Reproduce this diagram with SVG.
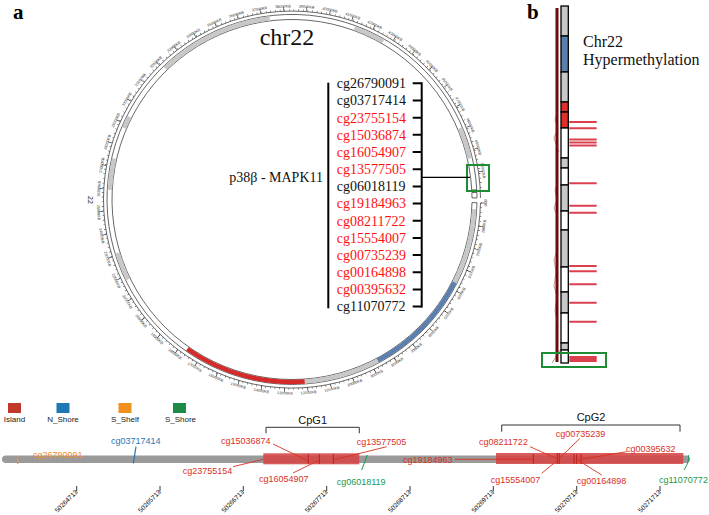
<svg xmlns="http://www.w3.org/2000/svg" width="709" height="515" viewBox="0 0 709 515">
<style>
.serif{font-family:"Liberation Serif","Times New Roman",serif}
.sans{font-family:"Liberation Sans",Arial,sans-serif}
.tl{font-family:"Liberation Sans",Arial,sans-serif;font-size:3.8px;fill:#333;text-anchor:middle}
.li{font-family:"Liberation Serif",serif;font-size:14px}
.blk{fill:#111}
.red{fill:#ff1010}
.band{fill:none;stroke-width:4.4}
.g{stroke:#c8c8c8}
.pr{font-family:"Liberation Sans",Arial,sans-serif;font-size:9px}
.cr{fill:#d7301f}
.cl{stroke:#d7301f;stroke-width:0.9;fill:none}
.tk{stroke:#c0201a;stroke-width:1}
.ax{font-family:"Liberation Sans",Arial,sans-serif;font-size:6.5px;fill:#000;text-anchor:end}
.hm{stroke:#d9414f;stroke-width:2}
.seg{stroke:#000;stroke-width:1.3}
.lg{font-family:"Liberation Sans",Arial,sans-serif;font-size:8px;fill:#222;text-anchor:middle}
</style>
<rect width="709" height="515" fill="#fff"/>

<text x="13" y="19" class="serif" font-size="21" font-weight="bold">a</text>
<text x="527" y="19" class="serif" font-size="21" font-weight="bold">b</text>

<!-- circle -->
<g id="circos">
<path d="M476.97,202.73 A185,185 0 1 1 476.75,189.82 L471.75,190.08 A180,180 0 1 0 471.97,202.64 Z" fill="#fff" stroke="#000" stroke-width="0.6"/>
<path d="M476.86,192.40 A185,185 0 0 1 476.99,197.89 L471.99,197.93 A180,180 0 0 0 471.87,192.59 Z" fill="#fff" stroke="#000" stroke-width="0.6"/>
<path class="band g" d="M474.25,209.05 A182.5,182.5 0 0 1 454.61,282.35"/>
<path class="band" stroke="#5b7fae" d="M454.61,282.35 A182.5,182.5 0 0 1 377.68,360.64"/>
<path class="band g" d="M377.68,360.64 A182.5,182.5 0 0 1 304.73,381.55"/>
<path class="band" stroke="#d42a2a" d="M304.73,381.55 A182.5,182.5 0 0 1 187.32,349.00"/>
<path class="band g" d="M127.97,279.50 A182.5,182.5 0 0 1 117.48,252.86"/>
<path class="band g" d="M109.75,189.95 A182.5,182.5 0 0 1 114.18,158.45"/>
<path class="band g" d="M124.01,128.19 A182.5,182.5 0 0 1 129.39,116.65"/>
<path class="band g" d="M165.22,68.22 A182.5,182.5 0 0 1 269.76,18.36"/>
<path class="band g" d="M354.42,28.01 A182.5,182.5 0 0 1 383.25,41.45"/>
<path class="band g" d="M459.99,128.19 A182.5,182.5 0 0 1 469.82,158.45"/>
<path d="M480.47,202.79 A188.5,188.5 0 1 1 480.49,197.86" fill="none" stroke="#000" stroke-width="0.6"/>
<path d="M481.47,202.81 A189.5,189.5 0 1 1 481.24,189.58" fill="none" stroke="#000" stroke-width="1.6" stroke-dasharray="0.4 4.24"/>
<path d="M482.97,202.83 A191,191 0 1 1 482.74,189.50" fill="none" stroke="#000" stroke-width="4" stroke-dasharray="0.5 22.85"/>
<text x="88" y="200" class="sans" font-size="7" fill="#222" text-anchor="middle" transform="rotate(90 88 200)">22</text>
<g id="ticklabels">
<text class="tl" x="292" y="394.5" transform="rotate(-89 292 199.5)">0KB</text>
<text class="tl" x="292" y="394.5" transform="rotate(-81.99 292 199.5)">1000KB</text>
<text class="tl" x="292" y="394.5" transform="rotate(-74.98 292 199.5)">2000KB</text>
<text class="tl" x="292" y="394.5" transform="rotate(-67.98 292 199.5)">3000KB</text>
<text class="tl" x="292" y="394.5" transform="rotate(-60.97 292 199.5)">4000KB</text>
<text class="tl" x="292" y="394.5" transform="rotate(-53.96 292 199.5)">5000KB</text>
<text class="tl" x="292" y="394.5" transform="rotate(-46.95 292 199.5)">6000KB</text>
<text class="tl" x="292" y="394.5" transform="rotate(-39.94 292 199.5)">7000KB</text>
<text class="tl" x="292" y="394.5" transform="rotate(-32.94 292 199.5)">8000KB</text>
<text class="tl" x="292" y="394.5" transform="rotate(-25.93 292 199.5)">9000KB</text>
<text class="tl" x="292" y="394.5" transform="rotate(-18.92 292 199.5)">10000KB</text>
<text class="tl" x="292" y="394.5" transform="rotate(-11.91 292 199.5)">11000KB</text>
<text class="tl" x="292" y="394.5" transform="rotate(-4.9 292 199.5)">12000KB</text>
<text class="tl" x="292" y="394.5" transform="rotate(2.1 292 199.5)">13000KB</text>
<text class="tl" x="292" y="394.5" transform="rotate(9.11 292 199.5)">14000KB</text>
<text class="tl" x="292" y="394.5" transform="rotate(16.12 292 199.5)">15000KB</text>
<text class="tl" x="292" y="394.5" transform="rotate(23.13 292 199.5)">16000KB</text>
<text class="tl" x="292" y="394.5" transform="rotate(30.14 292 199.5)">17000KB</text>
<text class="tl" x="292" y="394.5" transform="rotate(37.14 292 199.5)">18000KB</text>
<text class="tl" x="292" y="394.5" transform="rotate(44.15 292 199.5)">19000KB</text>
<text class="tl" x="292" y="394.5" transform="rotate(51.16 292 199.5)">20000KB</text>
<text class="tl" x="292" y="394.5" transform="rotate(58.17 292 199.5)">21000KB</text>
<text class="tl" x="292" y="394.5" transform="rotate(65.18 292 199.5)">22000KB</text>
<text class="tl" x="292" y="394.5" transform="rotate(72.18 292 199.5)">23000KB</text>
<text class="tl" x="292" y="394.5" transform="rotate(79.19 292 199.5)">24000KB</text>
<text class="tl" x="292" y="394.5" transform="rotate(86.2 292 199.5)">25000KB</text>
<text class="tl" x="292" y="7.5" transform="rotate(-86.79 292 199.5)">26000KB</text>
<text class="tl" x="292" y="7.5" transform="rotate(-79.78 292 199.5)">27000KB</text>
<text class="tl" x="292" y="7.5" transform="rotate(-72.78 292 199.5)">28000KB</text>
<text class="tl" x="292" y="7.5" transform="rotate(-65.77 292 199.5)">29000KB</text>
<text class="tl" x="292" y="7.5" transform="rotate(-58.76 292 199.5)">30000KB</text>
<text class="tl" x="292" y="7.5" transform="rotate(-51.75 292 199.5)">31000KB</text>
<text class="tl" x="292" y="7.5" transform="rotate(-44.74 292 199.5)">32000KB</text>
<text class="tl" x="292" y="7.5" transform="rotate(-37.74 292 199.5)">33000KB</text>
<text class="tl" x="292" y="7.5" transform="rotate(-30.73 292 199.5)">34000KB</text>
<text class="tl" x="292" y="7.5" transform="rotate(-23.72 292 199.5)">35000KB</text>
<text class="tl" x="292" y="7.5" transform="rotate(-16.71 292 199.5)">36000KB</text>
<text class="tl" x="292" y="7.5" transform="rotate(-9.7 292 199.5)">37000KB</text>
<text class="tl" x="292" y="7.5" transform="rotate(-2.7 292 199.5)">38000KB</text>
<text class="tl" x="292" y="7.5" transform="rotate(4.31 292 199.5)">39000KB</text>
<text class="tl" x="292" y="7.5" transform="rotate(11.32 292 199.5)">40000KB</text>
<text class="tl" x="292" y="7.5" transform="rotate(18.33 292 199.5)">41000KB</text>
<text class="tl" x="292" y="7.5" transform="rotate(25.34 292 199.5)">42000KB</text>
<text class="tl" x="292" y="7.5" transform="rotate(32.34 292 199.5)">43000KB</text>
<text class="tl" x="292" y="7.5" transform="rotate(39.35 292 199.5)">44000KB</text>
<text class="tl" x="292" y="7.5" transform="rotate(46.36 292 199.5)">45000KB</text>
<text class="tl" x="292" y="7.5" transform="rotate(53.37 292 199.5)">46000KB</text>
<text class="tl" x="292" y="7.5" transform="rotate(60.38 292 199.5)">47000KB</text>
<text class="tl" x="292" y="7.5" transform="rotate(67.38 292 199.5)">48000KB</text>
<text class="tl" x="292" y="7.5" transform="rotate(74.39 292 199.5)">49000KB</text>
<text class="tl" x="292" y="7.5" transform="rotate(81.4 292 199.5)">50000KB</text>
</g>
<text x="287" y="45" class="serif" font-size="24" text-anchor="middle" fill="#111">chr22</text>
<rect x="467" y="165" width="22" height="26" fill="none" stroke="#1e8c32" stroke-width="2"/>
</g>

<!-- probe list -->
<g id="probe-list">
<text x="323" y="181.8" class="li blk" text-anchor="end">p38β - MAPK11</text>
<text x="336.7" y="88.1" class="li blk">cg26790091</text>
<text x="336.7" y="105.3" class="li blk">cg03717414</text>
<text x="336.7" y="122.5" class="li red">cg23755154</text>
<text x="336.7" y="139.6" class="li red">cg15036874</text>
<text x="336.7" y="156.8" class="li red">cg16054907</text>
<text x="336.7" y="174.0" class="li red">cg13577505</text>
<text x="336.7" y="191.2" class="li blk">cg06018119</text>
<text x="336.7" y="208.4" class="li red">cg19184963</text>
<text x="336.7" y="225.5" class="li red">cg08211722</text>
<text x="336.7" y="242.7" class="li red">cg15554007</text>
<text x="336.7" y="259.9" class="li red">cg00735239</text>
<text x="336.7" y="277.1" class="li red">cg00164898</text>
<text x="336.7" y="294.3" class="li red">cg00395632</text>
<text x="336.7" y="311.4" class="li blk">cg11070772</text>
</g>
<g id="list-connectors" stroke="#000" fill="none">
<line x1="328.3" y1="82.7" x2="328.3" y2="308.3" stroke-width="2"/>
<line x1="421.7" y1="82.3" x2="421.7" y2="307.6" stroke-width="2"/>
<path stroke-width="2" d="M412.7,83.3H421.7M412.7,100.5H421.7M412.7,117.7H421.7M412.7,134.8H421.7M412.7,152H421.7M412.7,169.2H421.7M412.7,186.4H421.7M412.7,203.6H421.7M412.7,220.7H421.7M412.7,237.9H421.7M412.7,255.1H421.7M412.7,272.3H421.7M412.7,289.5H421.7M412.7,306.6H421.7"/>
<line x1="421.7" y1="177.3" x2="470" y2="177.3" stroke-width="1.3"/>
</g>

<!-- panel b -->
<g id="panel-b">
<path d="M557,8 V362" stroke="#6b0a0a" stroke-width="3" fill="none"/>
<path d="M557,112 l-2,8 l3,8 l-4,10 l2,6 l3,8 M558,180 l-3,10 l2,10 l-3,8 l4,10 M557,250 l-3,10 l2,12 l-2,14 l3,10 l-2,14 l3,16 M560,350 l-8,13" stroke="#8b1a1a" stroke-width="0.6" fill="none" opacity="0.8"/>
<g class="seg">
<rect x="561" y="6" width="7.3" height="30" fill="#c8c8c8"/>
<rect x="561" y="36" width="7.3" height="36" fill="#5b7fae"/>
<rect x="561" y="72" width="7.3" height="30" fill="#c8c8c8"/>
<rect x="561" y="102" width="7.3" height="10" fill="#e0302a"/>
<rect x="561" y="112" width="7.3" height="16" fill="#e0302a"/>
<rect x="561" y="128" width="7.3" height="30" fill="#fff"/>
<rect x="561" y="158" width="7.3" height="10" fill="#c8c8c8"/>
<rect x="561" y="168" width="7.3" height="17" fill="#fff"/>
<rect x="561" y="185" width="7.3" height="26" fill="#c8c8c8"/>
<rect x="561" y="211" width="7.3" height="19" fill="#fff"/>
<rect x="561" y="230" width="7.3" height="37" fill="#c8c8c8"/>
<rect x="561" y="267" width="7.3" height="25" fill="#fff"/>
<rect x="561" y="292" width="7.3" height="21" fill="#c8c8c8"/>
<rect x="561" y="313" width="7.3" height="30" fill="#fff"/>
<rect x="561" y="343" width="7.3" height="7" fill="#c8c8c8"/>
<rect x="561" y="350" width="7.3" height="13" fill="#fff"/>
</g>
<path class="hm" d="M569.3,122H596.7M569.3,128.3H596.7M569.3,139.5H596.7M569.3,142.5H596.7M569.3,145.5H596.7M569.3,183.3H596.7M569.3,205.7H596.7M569.3,212.7H596.7M569.3,266H596.7M569.3,271.3H596.7M569.3,284.3H596.7M569.3,302.7H596.7M569.3,321.7H596.7"/>
<rect x="569.3" y="356" width="27.4" height="6" fill="#d9414f"/>
<rect x="542" y="353" width="64" height="14" fill="none" stroke="#1e8c32" stroke-width="2"/>
<text x="583" y="46.5" class="serif" font-size="16" fill="#111">Chr22</text>
<text x="583" y="65" class="serif" font-size="16" fill="#111">Hypermethylation</text>
</g>

<!-- legend -->
<g id="legend">
<rect x="8" y="403" width="13" height="10" fill="#c0392b"/>
<text x="14.5" y="421.5" class="lg">Island</text>
<rect x="56.5" y="403" width="13" height="10" fill="#1f78b4"/>
<text x="63" y="421.5" class="lg">N_Shore</text>
<rect x="118.5" y="403" width="13" height="10" fill="#f0901e"/>
<text x="125" y="421.5" class="lg">S_Shelf</text>
<rect x="173" y="403" width="13" height="10" fill="#1e8a4a"/>
<text x="180.5" y="421.5" class="lg">S_Shore</text>
</g>

<!-- track -->
<g id="track">
<rect x="2" y="455.5" width="688" height="7.5" rx="3.75" fill="#9a9a9a"/>
<rect x="263.3" y="453.3" width="96" height="11" fill="#d64545" opacity="0.88"/>
<rect x="496" y="453" width="187.3" height="11" fill="#d64545" opacity="0.88"/>
<path class="tk" d="M308.3,454V464M319.3,454V464M333.3,454V464M533.3,454V464M557.3,453V464M559.3,453V464M574,454V464M576.7,454V464M581,454V464"/>
<path d="M266,433.3V427.3H359.3V433.3M501.7,431.7V425H680V431.7" fill="none" stroke="#333" stroke-width="1"/>
<text x="312.7" y="423.5" class="sans" font-size="11" text-anchor="middle" fill="#111">CpG1</text>
<text x="591" y="421" class="sans" font-size="11" text-anchor="middle" fill="#111">CpG2</text>
</g>

<g id="probe-connectors">
<line x1="17.7" y1="456" x2="17.7" y2="464" stroke="#f28e2b" stroke-width="1.2"/>
<line x1="136" y1="446.7" x2="133.3" y2="463.3" stroke="#1f78b4" stroke-width="1.2"/>
<path class="cl" d="M233,466.7L263.3,459.3M273,444L308.3,461M293,473L319.3,460M386.7,446.7L333.3,460M455,459.3L533.3,459.3M530,446.7L558.3,459.3M580,438.3L558.3,459.3M541.7,473.3L557,460.7M601.7,475L576.7,459.3M626.7,451.7L581,459.3"/>
<path d="M361.7,470L367.3,455M688.3,455Q690,461 684,470" stroke="#1a9850" stroke-width="1" fill="none"/>
</g>

<g id="probe-labels" class="pr">
<text x="33" y="458.3" fill="#f28e2b">cg26790091</text>
<text x="111" y="444" fill="#1f78b4">cg03717414</text>
<text x="182.7" y="474" class="cr">cg23755154</text>
<text x="221" y="444" class="cr">cg15036874</text>
<text x="259" y="482.2" class="cr">cg16054907</text>
<text x="356.7" y="445" class="cr">cg13577505</text>
<text x="336.7" y="485" fill="#1a9850">cg06018119</text>
<text x="403" y="462.5" class="cr">cg19184963</text>
<text x="479" y="445" class="cr">cg08211722</text>
<text x="555.7" y="437.2" class="cr">cg00735239</text>
<text x="490.7" y="482.5" class="cr">cg15554007</text>
<text x="576.7" y="484.2" class="cr">cg00164898</text>
<text x="626" y="452.2" class="cr">cg00395632</text>
<text x="659" y="482.5" fill="#1a9850">cg11070772</text>
</g>

<g id="axis">
<path d="M76.7,486V491M160,486V491M243.3,486V491M326.7,486V491M410,486V491M493.3,486V491M576.7,486V491M660,486V491" stroke="#000" stroke-width="0.8"/>
<text class="ax" x="78" y="492.5" transform="rotate(-45 78 492.5)">50264713</text>
<text class="ax" x="161.3" y="492.5" transform="rotate(-45 161.3 492.5)">50265713</text>
<text class="ax" x="244.6" y="492.5" transform="rotate(-45 244.6 492.5)">50266713</text>
<text class="ax" x="328" y="492.5" transform="rotate(-45 328 492.5)">50267713</text>
<text class="ax" x="411.3" y="492.5" transform="rotate(-45 411.3 492.5)">50268713</text>
<text class="ax" x="494.6" y="492.5" transform="rotate(-45 494.6 492.5)">50269713</text>
<text class="ax" x="578" y="492.5" transform="rotate(-45 578 492.5)">50270713</text>
<text class="ax" x="661.3" y="492.5" transform="rotate(-45 661.3 492.5)">50271713</text>
</g>
</svg>
